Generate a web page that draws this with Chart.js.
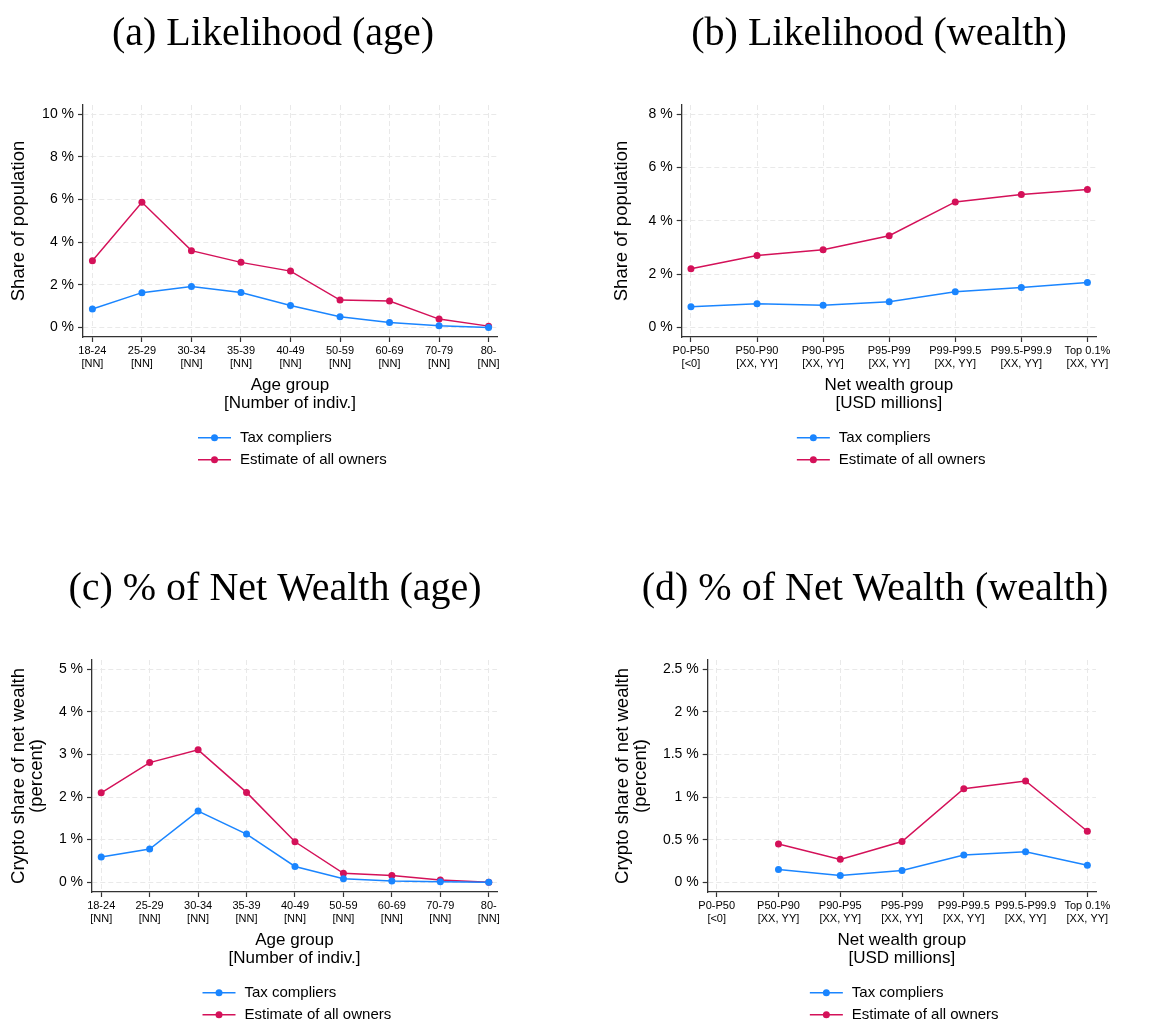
<!DOCTYPE html>
<html>
<head>
<meta charset="utf-8">
<script src="https://cdn.jsdelivr.net/npm/chart.js@4.4.0/dist/chart.umd.min.js"></script>
<style>
  body { margin: 0; background: #fff; }
  #wrap { position: relative; width: 1156px; height: 1024px; }
  canvas { position: absolute; }
</style>
</head>
<body>
<div id="wrap">
  <canvas id="chartA" width="578" height="512" style="left:0;top:0"></canvas>
  <canvas id="chartB" width="578" height="512" style="left:578px;top:0"></canvas>
  <canvas id="chartC" width="578" height="512" style="left:0;top:512px"></canvas>
  <canvas id="chartD" width="578" height="512" style="left:578px;top:512px"></canvas>
</div>
<script>
// groups on the x axis (two-line tick labels)
const ageGroups = [
  ['18-24', '[NN]'], ['25-29', '[NN]'], ['30-34', '[NN]'], ['35-39', '[NN]'], ['40-49', '[NN]'],
  ['50-59', '[NN]'], ['60-69', '[NN]'], ['70-79', '[NN]'], ['80-', '[NN]']
];
const wealthGroups = [
  ['P0-P50', '[<0]'], ['P50-P90', '[XX, YY]'], ['P90-P95', '[XX, YY]'], ['P95-P99', '[XX, YY]'],
  ['P99-P99.5', '[XX, YY]'], ['P99.5-P99.9', '[XX, YY]'], ['Top 0.1%', '[XX, YY]']
];

// share of population owning crypto, percent
const likeAgeTax = [0.86, 1.63, 1.92, 1.64, 1.03, 0.50, 0.23, 0.08, 0.00];
const likeAgeAll = [3.13, 5.87, 3.60, 3.05, 2.64, 1.28, 1.24, 0.39, 0.06];
const likeWealthTax = [0.78, 0.89, 0.83, 0.96, 1.34, 1.50, 1.69];
const likeWealthAll = [2.20, 2.70, 2.92, 3.44, 4.71, 4.99, 5.18];

// crypto share of net wealth, percent
const nwAgeTax = [0.59, 0.78, 1.67, 1.13, 0.37, 0.08, 0.03, 0.01, 0.00];
const nwAgeAll = [2.10, 2.81, 3.11, 2.11, 0.95, 0.21, 0.16, 0.05, 0.00];
const nwWealthTax = [null, 0.15, 0.08, 0.14, 0.32, 0.36, 0.20];
const nwWealthAll = [null, 0.45, 0.27, 0.48, 1.10, 1.19, 0.60];

// y tick values
const likeAgeTicks = [0, 2, 4, 6, 8, 10];
const likeWealthTicks = [0, 2, 4, 6, 8];
const nwAgeTicks = [0, 1, 2, 3, 4, 5];
const nwWealthTicks = [0, 0.5, 1, 1.5, 2, 2.5];

const seriesNames = ['Tax compliers', 'Estimate of all owners'];
const blue = '#1a85ff';
const red = '#d41159';

Chart.defaults.font.family = '"Liberation Sans", Arial, sans-serif';
Chart.defaults.color = '#000';

// heading above each panel + stata-style legend under the x title
const panelDecor = {
  id: 'panelDecor',
  afterDraw(chart, args, opts) {
    const ctx = chart.ctx;
    const area = chart.chartArea;
    ctx.save();
    ctx.font = '40px "Liberation Serif", "DejaVu Serif", serif';
    ctx.fillStyle = '#000';
    ctx.textAlign = 'center';
    ctx.textBaseline = 'alphabetic';
    ctx.fillText(opts.heading, opts.headX, opts.headY);

    const x0 = (area.left + area.right) / 2 - 92;
    ctx.font = '15px "Liberation Sans", Arial, sans-serif';
    ctx.textAlign = 'left';
    ctx.textBaseline = 'middle';
    chart.data.datasets.forEach((ds, i) => {
      const y = area.bottom + 100.7 + i * 22;
      ctx.strokeStyle = ds.borderColor;
      ctx.lineWidth = 1.5;
      ctx.beginPath();
      ctx.moveTo(x0, y);
      ctx.lineTo(x0 + 33, y);
      ctx.stroke();
      ctx.fillStyle = ds.borderColor;
      ctx.beginPath();
      ctx.arc(x0 + 16.5, y, 3.5, 0, Math.PI * 2);
      ctx.fill();
      ctx.fillStyle = '#000';
      ctx.fillText(ds.label, x0 + 42, y);
    });
    ctx.restore();
  }
};

function toPoints(values) {
  return values.map((v, i) => ({ x: i, y: v }));
}

function makeDataset(label, values, color) {
  return {
    label: label,
    data: toPoints(values),
    borderColor: color,
    backgroundColor: color,
    borderWidth: 1.5,
    pointRadius: 3.5,
    pointBorderWidth: 0,
    pointBackgroundColor: color,
    tension: 0,
    spanGaps: false
  };
}

function makePanel(id, p) {
  const H = 512, W = 578;
  const axisColor = '#333';
  const gridColor = '#e9e9e9';
  const ctx = document.getElementById(id).getContext('2d');
  return new Chart(ctx, {
    type: 'line',
    data: {
      datasets: [
        makeDataset(seriesNames[0], p.tax, blue),
        makeDataset(seriesNames[1], p.all, red)
      ]
    },
    plugins: [panelDecor],
    options: {
      responsive: false,
      animation: false,
      events: [],
      layout: { padding: { left: 0, top: p.box.top, right: W - p.box.right, bottom: 0 } },
      plugins: {
        legend: { display: false },
        tooltip: { enabled: false },
        panelDecor: { heading: p.heading, headX: p.headX, headY: p.headY }
      },
      scales: {
        x: {
          type: 'linear',
          min: p.xMin,
          max: p.xMax,
          afterFit: s => { s.height = H - p.box.bottom; },
          afterBuildTicks: s => { s.ticks = p.labels.map((_, i) => ({ value: i })); },
          ticks: {
            font: { size: 11, lineHeight: 1.2 },
            padding: 2,
            maxRotation: 0,
            autoSkip: false,
            callback: v => p.labels[v]
          },
          grid: {
            color: gridColor,
            lineWidth: 1,
            tickLength: 5,
            tickColor: axisColor,
            tickWidth: 1.2,
            tickBorderDash: []
          },
          border: { display: true, color: axisColor, width: 1.3, dash: [5, 3] },
          title: {
            display: true,
            text: p.xTitle,
            font: { size: 17, lineHeight: 1.08 },
            padding: { top: 0, bottom: H - (p.box.bottom + 48) - 27.5 }
          }
        },
        y: {
          type: 'linear',
          min: p.yMin,
          max: p.yMax,
          afterFit: s => { s.width = p.box.left; },
          afterBuildTicks: s => { s.ticks = p.yTicks.map(v => ({ value: v })); },
          ticks: {
            font: { size: 14 },
            padding: 4,
            callback: v => v + ' %'
          },
          grid: {
            color: gridColor,
            lineWidth: 1,
            tickLength: 5,
            tickColor: axisColor,
            tickWidth: 1.2,
            tickBorderDash: []
          },
          border: { display: true, color: axisColor, width: 1.3, dash: [5, 3] },
          title: {
            display: true,
            text: p.yTitle,
            font: { size: 18.5, lineHeight: 0.97 },
            padding: { top: p.yTitlePad, bottom: 0 }
          }
        }
      }
    }
  });
}

const ageTitle = ['Age group', '[Number of indiv.]'];
const wealthTitle = ['Net wealth group', '[USD millions]'];

makePanel('chartA', {
  heading: '(a) Likelihood (age)', headX: 273, headY: 45,
  labels: ageGroups, tax: likeAgeTax, all: likeAgeAll, yTicks: likeAgeTicks,
  xMin: -0.19, xMax: 8.17, yMin: -0.45, yMax: 10.43,
  box: { left: 83, right: 497, top: 105, bottom: 337 },
  xTitle: ageTitle, yTitle: 'Share of population', yTitlePad: 9.75
});

makePanel('chartB', {
  heading: '(b) Likelihood (wealth)', headX: 301, headY: 45,
  labels: wealthGroups, tax: likeWealthTax, all: likeWealthAll, yTicks: likeWealthTicks,
  xMin: -0.14, xMax: 6.13, yMin: -0.36, yMax: 8.35,
  box: { left: 103.7, right: 518, top: 105, bottom: 337 },
  xTitle: wealthTitle, yTitle: 'Share of population', yTitlePad: 34.75
});

makePanel('chartC', {
  heading: '(c) % of Net Wealth (age)', headX: 275, headY: 88,
  labels: ageGroups, tax: nwAgeTax, all: nwAgeAll, yTicks: nwAgeTicks,
  xMin: -0.19, xMax: 8.17, yMin: -0.23, yMax: 5.22,
  box: { left: 92, right: 497, top: 148, bottom: 380 },
  xTitle: ageTitle, yTitle: ['Crypto share of net wealth', '(percent)'], yTitlePad: 9.75
});

makePanel('chartD', {
  heading: '(d) % of Net Wealth (wealth)', headX: 297, headY: 88,
  labels: wealthGroups, tax: nwWealthTax, all: nwWealthAll, yTicks: nwWealthTicks,
  xMin: -0.146, xMax: 6.14, yMin: -0.113, yMax: 2.61,
  box: { left: 129.7, right: 518, top: 148, bottom: 380 },
  xTitle: wealthTitle, yTitle: ['Crypto share of net wealth', '(percent)'], yTitlePad: 35.75
});
</script>
</body>
</html>
